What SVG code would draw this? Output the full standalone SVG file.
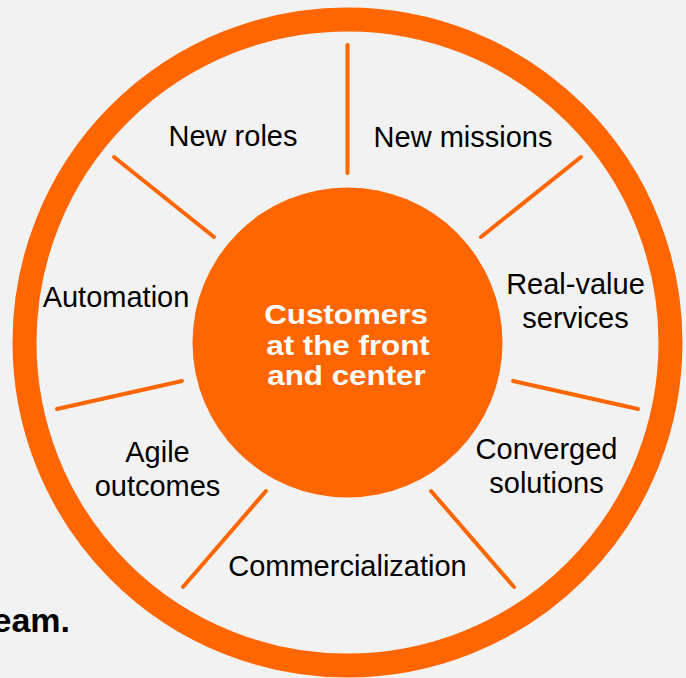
<svg xmlns="http://www.w3.org/2000/svg" width="686" height="678" viewBox="0 0 686 678">
<style>
.lbl{font-family:"Liberation Sans",Arial,sans-serif;font-size:29px;fill:#000;text-anchor:middle}
.ctr{font-family:"Liberation Sans",Arial,sans-serif;font-size:27.5px;font-weight:bold;fill:#fff;text-anchor:middle}
.spoke{stroke:#ff6600;stroke-width:4;stroke-linecap:round;fill:none}
</style>
<rect width="686" height="678" fill="#f2f2f2"/>
<g id="ring"><circle cx="347.5" cy="342.5" r="323" fill="none" stroke="#ff6600" stroke-width="24"/></g>
<g id="connectors">
<line class="spoke" x1="347.5" y1="173" x2="347.5" y2="45"/>
<line class="spoke" x1="214" y1="237" x2="114" y2="157"/>
<line class="spoke" x1="481" y1="237" x2="581" y2="157"/>
<line class="spoke" x1="182" y1="381" x2="57" y2="409"/>
<line class="spoke" x1="513" y1="381" x2="638" y2="409"/>
<line class="spoke" x1="266" y1="491" x2="183" y2="587"/>
<line class="spoke" x1="431" y1="491" x2="514" y2="587"/>
</g>
<g id="center">
<circle cx="347.5" cy="342.5" r="155" fill="#ff6600"/>
<text class="ctr" transform="translate(346,323.5) scale(1.14,1)">Customers</text>
<text class="ctr" transform="translate(348,354.5) scale(1.14,1)">at the front</text>
<text class="ctr" transform="translate(346.5,384.5) scale(1.14,1)">and center</text>
</g>
<g id="new-roles"><text class="lbl" x="233" y="146">New roles</text></g>
<g id="new-missions"><text class="lbl" x="463" y="146.5">New missions</text></g>
<g id="automation"><text class="lbl" x="116" y="306.5">Automation</text></g>
<g id="real-value"><text class="lbl" x="575.5" y="294">Real-value</text><text class="lbl" x="575.5" y="328">services</text></g>
<g id="agile"><text class="lbl" x="157.5" y="461.5">Agile</text><text class="lbl" x="157.5" y="495.5">outcomes</text></g>
<g id="converged"><text class="lbl" x="546.5" y="458.5">Converged</text><text class="lbl" x="546.5" y="493">solutions</text></g>
<g id="commercialization"><text class="lbl" x="347.5" y="576">Commercialization</text></g>
<text x="70" y="632" font-family="Liberation Sans,Arial,sans-serif" font-size="34" font-weight="bold" fill="#000" text-anchor="end">eam.</text>
</svg>
